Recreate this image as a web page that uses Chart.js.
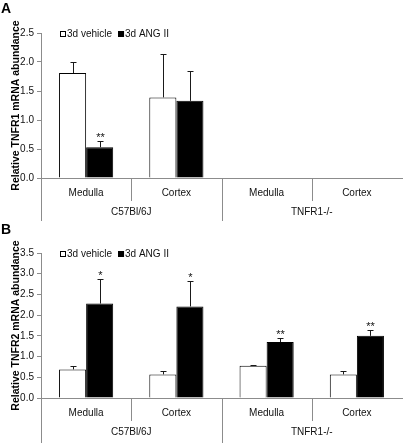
<!DOCTYPE html>
<html>
<head>
<meta charset="utf-8">
<script src="https://cdn.jsdelivr.net/npm/chart.js@4.4.1/dist/chart.umd.min.js"></script>
<style>
  html, body { margin: 0; padding: 0; background: #fff; }
  #wrap { position: relative; width: 403px; height: 443px; }
  canvas { position: absolute; left: 0; }
</style>
</head>
<body>
<div id="wrap">
  <canvas id="chartA" width="403" height="221" style="top:0"></canvas>
  <canvas id="chartB" width="403" height="222" style="top:221px"></canvas>
</div>
<script>
// ---- datos ----
const categories = ['Medulla', 'Cortex', 'Medulla', 'Cortex'];
const groups = ['C57Bl/6J', 'TNFR1-/-'];
const seriesNames = ['3d vehicle', '3d ANG II'];

// Panel A: TNFR1
const tnfr1Vehicle = [1.81, 1.39, null, null];
const tnfr1VehicleErr = [0.19, 0.75, null, null];
const tnfr1Ang = [0.53, 1.33, null, null];
const tnfr1AngErr = [0.11, 0.52, null, null];
const tnfr1AngMarks = ['**', '', '', ''];
const tnfr1Ticks = [0, 0.5, 1.0, 1.5, 2.0, 2.5];

// Panel B: TNFR2
const tnfr2Vehicle = [0.69, 0.57, 0.78, 0.57];
const tnfr2VehicleErr = [0.09, 0.07, 0.01, 0.07];
const tnfr2Ang = [2.28, 2.21, 1.35, 1.50];
const tnfr2AngErr = [0.60, 0.61, 0.09, 0.14];
const tnfr2AngMarks = ['*', '*', '**', '**'];
const tnfr2Ticks = [0, 0.5, 1.0, 1.5, 2.0, 2.5, 3.0, 3.5];

const FONT = "'Liberation Sans', Arial, sans-serif";
const AXIS_COLOR = '#8c8c8c';

// dibuja barras de error, asteriscos, leyenda, separadores y etiquetas de grupo
const extrasPlugin = {
    id: 'extras',
    afterDatasetsDraw(chart, args, opts) {
        const ctx = chart.ctx;
        const yScale = chart.scales.y;
        ctx.save();
        ctx.strokeStyle = '#1a1a1a';
        ctx.lineWidth = 1;
        chart.data.datasets.forEach((ds, i) => {
            const meta = chart.getDatasetMeta(i);
            const errs = opts.errors[i];
            meta.data.forEach((bar, j) => {
                const v = ds.data[j];
                if (v === null || !errs[j]) return;
                const x = Math.round(bar.x) + 0.5;
                const yTop = Math.round(yScale.getPixelForValue(v + errs[j])) + 0.5;
                ctx.beginPath();
                ctx.moveTo(x, bar.y);
                ctx.lineTo(x, yTop);
                ctx.moveTo(x - 3, yTop);
                ctx.lineTo(x + 3, yTop);
                ctx.stroke();
                const mark = opts.marks[i][j];
                if (mark) {
                    ctx.fillStyle = '#111';
                    ctx.font = '11px ' + FONT;
                    ctx.textAlign = 'center';
                    ctx.textBaseline = 'alphabetic';
                    ctx.fillText(mark, x, yTop - 1);
                }
            });
        });
        ctx.restore();
    },
    afterDraw(chart, args, opts) {
        const ctx = chart.ctx;
        const xScale = chart.scales.x;
        const area = chart.chartArea;
        ctx.save();

        // letra del panel
        ctx.fillStyle = '#000';
        ctx.font = 'bold 14px ' + FONT;
        ctx.textAlign = 'left';
        ctx.textBaseline = 'alphabetic';
        ctx.fillText(opts.letter, 1, 13);

        // leyenda dentro del área
        ctx.font = '10px ' + FONT;
        ctx.textBaseline = 'middle';
        let lx = area.left + 19;
        const ly = area.top + 1;
        chart.data.datasets.forEach(ds => {
            ctx.fillStyle = ds.backgroundColor;
            ctx.fillRect(lx, ly - 3, 6, 6);
            ctx.strokeStyle = '#000';
            ctx.lineWidth = 1;
            ctx.strokeRect(lx + 0.5, ly - 2.5, 5, 5);
            ctx.fillStyle = '#111';
            ctx.fillText(ds.label, lx + 7, ly);
            lx += 7 + ctx.measureText(ds.label).width + 6;
        });

        // separadores bajo el eje x
        const n = chart.data.labels.length;
        const bounds = [];
        for (let i = 0; i < n; i++) {
            bounds.push(i === 0 ? xScale.left : (xScale.getPixelForValue(i - 1) + xScale.getPixelForValue(i)) / 2);
        }
        bounds.push(xScale.right);
        ctx.strokeStyle = AXIS_COLOR;
        ctx.lineWidth = 1;
        for (let i = 0; i < n; i++) {
            const bx = Math.round(bounds[i]) + 0.5;
            const end = (i % 2 === 0) ? chart.height : area.bottom + 23;
            ctx.beginPath();
            ctx.moveTo(bx, area.bottom);
            ctx.lineTo(bx, end);
            ctx.stroke();
        }

        // etiquetas de grupo
        ctx.fillStyle = '#111';
        ctx.font = '10px ' + FONT;
        ctx.textAlign = 'center';
        ctx.textBaseline = 'middle';
        opts.groups.forEach((g, k) => {
            const cx = (bounds[k * 2] + bounds[k * 2 + 2]) / 2;
            ctx.fillText(g, cx, area.bottom + 34);
        });
        ctx.restore();
    }
};

function crearPanel(canvasId, letter, title, vehicle, vehicleErr, ang, angErr, angMarks, ticks, padTop, axisHeight) {
    const ctx = document.getElementById(canvasId).getContext('2d');
    return new Chart(ctx, {
        type: 'bar',
        data: {
            labels: categories,
            datasets: [
                {
                    label: seriesNames[0],
                    data: vehicle,
                    backgroundColor: '#ffffff',
                    borderColor: '#000000',
                    borderWidth: 1,
                    categoryPercentage: 0.6,
                    barPercentage: 1.0
                },
                {
                    label: seriesNames[1],
                    data: ang,
                    backgroundColor: '#000000',
                    borderColor: '#000000',
                    borderWidth: 1,
                    categoryPercentage: 0.6,
                    barPercentage: 1.0
                }
            ]
        },
        options: {
            responsive: false,
            animation: false,
            devicePixelRatio: 1,
            layout: { padding: { top: padTop, left: 0, right: 1, bottom: 0 } },
            plugins: {
                legend: { display: false },
                tooltip: { enabled: false },
                extras: {
                    letter: letter,
                    groups: groups,
                    errors: [vehicleErr, angErr],
                    marks: [['', '', '', ''], angMarks]
                }
            },
            scales: {
                x: {
                    grid: { display: false, drawTicks: false },
                    border: { display: true, color: AXIS_COLOR, width: 1 },
                    ticks: {
                        color: '#111',
                        font: { family: FONT, size: 10 },
                        padding: 9,
                        maxRotation: 0,
                        autoSkip: false
                    },
                    afterFit(scale) { scale.height = axisHeight; }
                },
                y: {
                    min: ticks[0],
                    max: ticks[ticks.length - 1],
                    afterBuildTicks(scale) {
                        scale.ticks = ticks.map(v => ({ value: v }));
                    },
                    grid: {
                        drawOnChartArea: false,
                        drawTicks: true,
                        tickLength: 4,
                        color: AXIS_COLOR
                    },
                    border: { display: true, color: AXIS_COLOR, width: 1 },
                    ticks: {
                        color: '#111',
                        font: { family: FONT, size: 10 },
                        padding: 3,
                        callback: v => Number(v).toFixed(1)
                    },
                    title: {
                        display: true,
                        text: title,
                        color: '#000',
                        font: { family: FONT, size: 10.5, weight: 'bold' },
                        padding: { top: 10, bottom: 0 }
                    },
                    afterFit(scale) { scale.width = 41; }
                }
            }
        },
        plugins: [extrasPlugin]
    });
}

window.graficoA = crearPanel('chartA', 'A', 'Relative TNFR1 mRNA abundance',
    tnfr1Vehicle, tnfr1VehicleErr, tnfr1Ang, tnfr1AngErr, tnfr1AngMarks, tnfr1Ticks, 33, 43);
window.graficoB = crearPanel('chartB', 'B', 'Relative TNFR2 mRNA abundance',
    tnfr2Vehicle, tnfr2VehicleErr, tnfr2Ang, tnfr2AngErr, tnfr2AngMarks, tnfr2Ticks, 32, 45);
</script>
</body>
</html>
